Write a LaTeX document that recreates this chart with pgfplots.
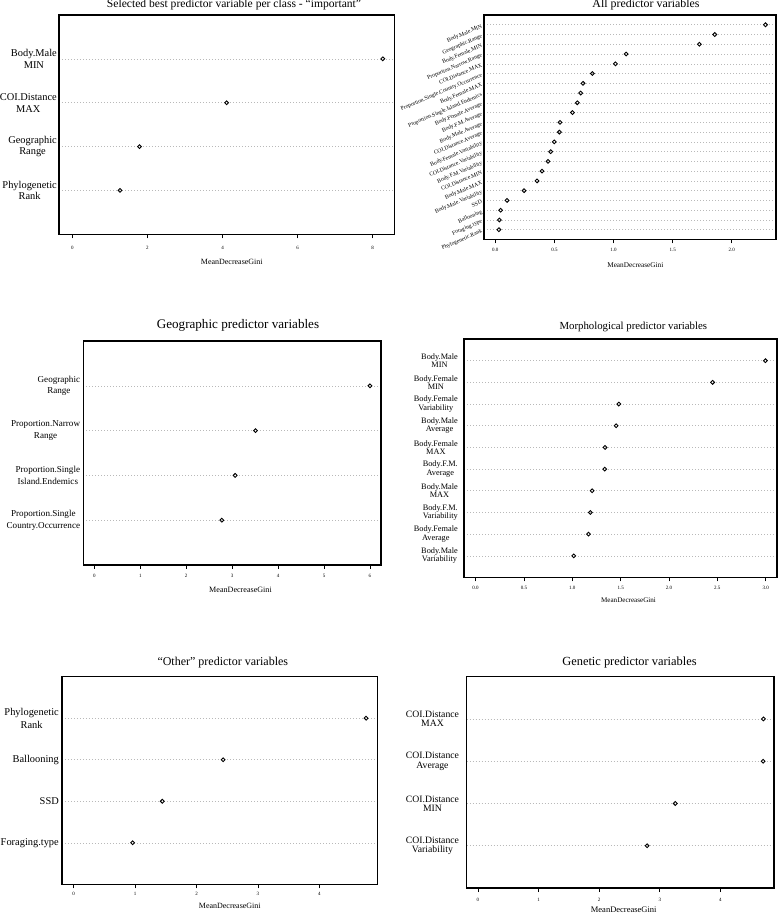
\documentclass[border=0pt]{standalone}
\usepackage{pgfplots}
\pgfplotsset{compat=1.18}
\usepackage{fontspec}
\setmainfont{Liberation Serif}
\newcommand{\fs}[2]{\fontsize{#1}{#2}\selectfont}
\pgfplotsset{
  dot/.style={
    scale only axis, anchor=south west, clip=false,
    axis line style={line width=1.1pt, black},
    ymin=0,
    ytick style={draw=none},
    ymajorgrids,
    grid style={gray!55, line width=0.55pt, dash pattern=on 0.7pt off 2.3pt},
    xtick align=outside, xtick pos=left,
    major tick length=4pt,
    xtick style={line width=0.8pt, black},
    /pgf/number format/assume math mode=true,
    yticklabel style={align=center, inner sep=0pt},
    xticklabel style={inner sep=0pt, font=\fs{5}{6}},
  },
  pt/.style={only marks, mark=o, mark size=1.9pt, line width=0.9pt, black},
  onedec/.style={xticklabel style={/pgf/number format/fixed, /pgf/number format/fixed zerofill, /pgf/number format/precision=1}},
}
\begin{document}
\begin{tikzpicture}[x=1pt,y=1pt]
\useasboundingbox (0pt,0pt) rectangle (778pt,914pt);

% ---------- Panel 1 ----------
\begin{axis}[dot, at={(59pt,679.7pt)}, width=335.3pt, height=219.3pt,
  xmin=-0.354, xmax=8.575, ymax=5,
  xtick={0,2,4,6,8},
  xticklabel style={yshift=-7.3pt},
  ytick={1,2,3,4},
  yticklabels={{Phylogenetic\\Rank},{Geographic\\Range},{COI.Distance\\MAX},{Body.Male\\MIN}},
  yticklabel style={font=\fs{10.4}{11.7}, xshift=-2pt}]
\addplot[pt] coordinates {(1.27,1) (1.79,2) (4.11,3) (8.27,4)};
\end{axis}
\node[anchor=base, font=\fs{11.6}{13}] at (234pt,906.7pt) {Selected best predictor variable per class - “important”};
\node[anchor=base, font=\fs{8}{9}] at (231.8pt,649.7pt) {MeanDecreaseGini};

% ---------- Panel 2 ----------
\begin{axis}[dot, onedec, at={(484pt,674.5pt)}, width=292pt, height=224.5pt,
  xmin=-0.0956, xmax=2.374, ymax=23,
  xtick={0,0.5,1,1.5,2},
  xticklabel style={yshift=-4.3pt},
  ytick={1,...,22},
  yticklabels={Phylogenetic.Rank,Foraging.type,Ballooning,SSD,Body.Male.Variability,Body.Male.MAX,COI.Distance.MIN,Body.F.M.Variability,COI.Distance.Variability,Body.Female.Variability,COI.Distance.Average,Body.Male.Average,Body.F.M.Average,Body.Female.Average,Proportion.Single.Island.Endemics,Body.Female.MAX,Proportion.Single.Country.Occurrence,COI.Distance.MAX,Proportion.Narrow.Range,Body.Female.MIN,Geographic.Range,Body.Male.MIN},
  yticklabel style={font=\fs{5.7}{6}, anchor=north east, xshift=-3pt, yshift=1pt, rotate=23}]
\addplot[pt] coordinates {(0.031,1) (0.034,2) (0.045,3) (0.099,4) (0.243,5) (0.353,6) (0.395,7) (0.446,8) (0.468,9) (0.499,10) (0.542,11) (0.547,12) (0.652,13) (0.694,14) (0.722,15) (0.742,16) (0.821,17) (1.016,18) (1.106,19) (1.726,20) (1.856,21) (2.285,22)};
\end{axis}
\node[anchor=base, font=\fs{11.9}{13}] at (646pt,906pt) {All predictor variables};
\node[anchor=base, font=\fs{7.25}{8}] at (635.3pt,646.3pt) {MeanDecreaseGini};

% ---------- Panel 3 ----------
\begin{axis}[dot, at={(83.3pt,349pt)}, width=297.7pt, height=224pt,
  xmin=-0.24, xmax=6.24, ymax=5,
  xtick={0,1,2,3,4,5,6},
  xticklabel style={yshift=-5.3pt},
  ytick={1,2,3,4},
  yticklabels={{Proportion.Single\\Country.Occurrence},{Proportion.Single\\Island.Endemics},{Proportion.Narrow\\Range},{Geographic\\Range}},
  yticklabel style={font=\fs{9.1}{11.5}, xshift=-3pt}]
\addplot[pt] coordinates {(2.775,1) (3.065,2) (3.507,3) (6.0,4)};
\end{axis}
\node[anchor=base, font=\fs{13.1}{14}] at (238pt,585.7pt) {Geographic predictor variables};
\node[anchor=base, font=\fs{8.1}{9}] at (240.5pt,321.3pt) {MeanDecreaseGini};

% ---------- Panel 4 ----------
\begin{axis}[dot, onedec, at={(464pt,336.5pt)}, width=313pt, height=238.5pt,
  xmin=-0.12, xmax=3.117, ymax=11,
  xtick={0,0.5,1,1.5,2,2.5,3},
  xticklabel style={yshift=-4.3pt},
  ytick={1,...,10},
  yticklabels={{Body.Male\\Variability},{Body.Female\\Average},{Body.F.M.\\Variability},{Body.Male\\MAX},{Body.F.M.\\Average},{Body.Female\\MAX},{Body.Male\\Average},{Body.Female\\Variability},{Body.Female\\MIN},{Body.Male\\MIN}},
  yticklabel style={font=\fs{8.3}{8.3}, xshift=-6pt}]
\addplot[pt] coordinates {(1.015,1) (1.167,2) (1.187,3) (1.205,4) (1.336,5) (1.339,6) (1.453,7) (1.481,8) (2.451,9) (2.997,10)};
\end{axis}
\node[anchor=base, font=\fs{10.8}{12}] at (633.3pt,584pt) {Morphological predictor variables};
\node[anchor=base, font=\fs{7.1}{8}] at (628.5pt,311.7pt) {MeanDecreaseGini};

% ---------- Panel 5 ----------
\begin{axis}[dot, at={(62pt,29.7pt)}, width=315.7pt, height=207.6pt,
  xmin=-0.19, xmax=4.949, ymax=5,
  xtick={0,1,2,3,4},
  xticklabel style={yshift=-4pt},
  ytick={1,2,3,4},
  yticklabels={{Foraging.type},{SSD},{Ballooning},{Phylogenetic\\Rank}},
  yticklabel style={font=\fs{10.4}{12.7}, xshift=-3pt}]
\addplot[pt] coordinates {(0.959,1) (1.442,2) (2.434,3) (4.759,4)};
\end{axis}
\node[anchor=base, font=\fs{12}{13}] at (222.8pt,248.3pt) {“Other” predictor variables};
\node[anchor=base, font=\fs{8}{9}] at (229.8pt,5.3pt) {MeanDecreaseGini};

% ---------- Panel 6 ----------
\begin{axis}[dot, at={(466.7pt,26pt)}, width=307.3pt, height=211.3pt,
  xmin=-0.185, xmax=4.885, ymax=5,
  xtick={0,1,2,3,4},
  xticklabel style={yshift=-6.3pt},
  ytick={1,2,3,4},
  yticklabels={{COI.Distance\\Variability},{COI.Distance\\MIN},{COI.Distance\\Average},{COI.Distance\\MAX}},
  yticklabel style={font=\fs{9.7}{9.3}, xshift=-7.5pt}]
\addplot[pt] coordinates {(2.791,1) (3.256,2) (4.706,3) (4.711,4)};
\end{axis}
\node[anchor=base, font=\fs{12.4}{13}] at (629.5pt,248.3pt) {Genetic predictor variables};
\node[anchor=base, font=\fs{8.5}{9}] at (623.7pt,1.5pt) {MeanDecreaseGini};
\end{tikzpicture}
\end{document}
